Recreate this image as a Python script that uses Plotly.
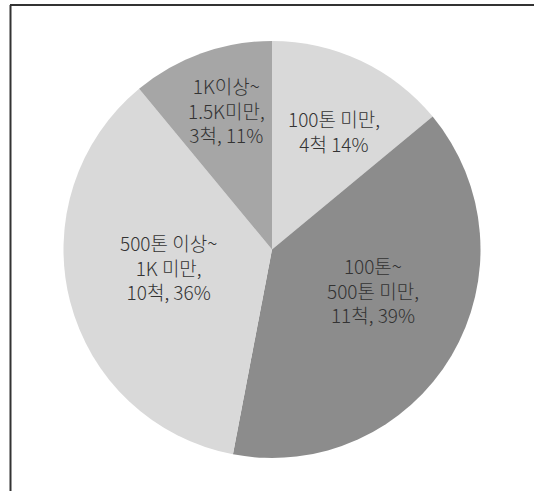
import plotly.graph_objects as go

# Fleet composition by tonnage class
categories = ["100톤 미만", "100톤~500톤 미만", "500톤 이상~1K 미만", "1K이상~1.5K미만"]
vessels = [4, 11, 10, 3]          # number of vessels
share_pct = [14, 39, 36, 11]      # share of fleet, %
label_heads = [
    "100톤 미만,",
    "100톤~<br>500톤 미만,",
    "500톤 이상~<br>1K 미만,",
    "1K이상~<br>1.5K미만,",
]
count_sep = [" ", ", ", ", ", ", "]
slice_colors = ["#d9d9d9", "#8c8c8c", "#d9d9d9", "#a6a6a6"]

label_texts = [
    f"{head}<br>{n}척{sep}{p}%"
    for head, n, sep, p in zip(label_heads, vessels, count_sep, share_pct)
]

W, H = 534, 491
# label centres inside each slice, in pixels from the top-left corner
label_px = [(334, 131), (373, 290), (168, 267), (226, 110)]

fig = go.Figure(
    go.Pie(
        labels=categories,
        values=share_pct,
        customdata=vessels,
        sort=False,
        direction="clockwise",
        rotation=0,
        marker=dict(colors=slice_colors, line=dict(width=0)),
        textinfo="none",
        hovertemplate="%{label}<br>%{customdata}척, %{value}%<extra></extra>",
        showlegend=False,
        domain=dict(x=[(272 - 208.5) / W, (272 + 208.5) / W],
                    y=[1 - 458 / H, 1 - 41 / H]),
    )
)

annotations = []
for text, (px, py) in zip(label_texts, label_px):
    annotations.append(dict(
        x=px / W, y=1 - py / H, xref="paper", yref="paper",
        text=text, showarrow=False, align="center",
        xanchor="center", yanchor="middle",
        font=dict(family="Noto Sans CJK KR", size=19, color="#333333", weight=300),
    ))

fig.update_layout(
    width=W, height=H,
    margin=dict(l=0, r=0, t=0, b=0),
    paper_bgcolor="white",
    plot_bgcolor="white",
    annotations=annotations,
    shapes=[
        dict(type="line", xref="paper", yref="paper",
             x0=10 / W, x1=1, y0=1 - 5 / H, y1=1 - 5 / H,
             line=dict(color="#333333", width=2)),
        dict(type="line", xref="paper", yref="paper",
             x0=10.5 / W, x1=10.5 / W, y0=0, y1=1 - 5 / H,
             line=dict(color="#333333", width=2)),
    ],
)

fig.write_html("out.html")
